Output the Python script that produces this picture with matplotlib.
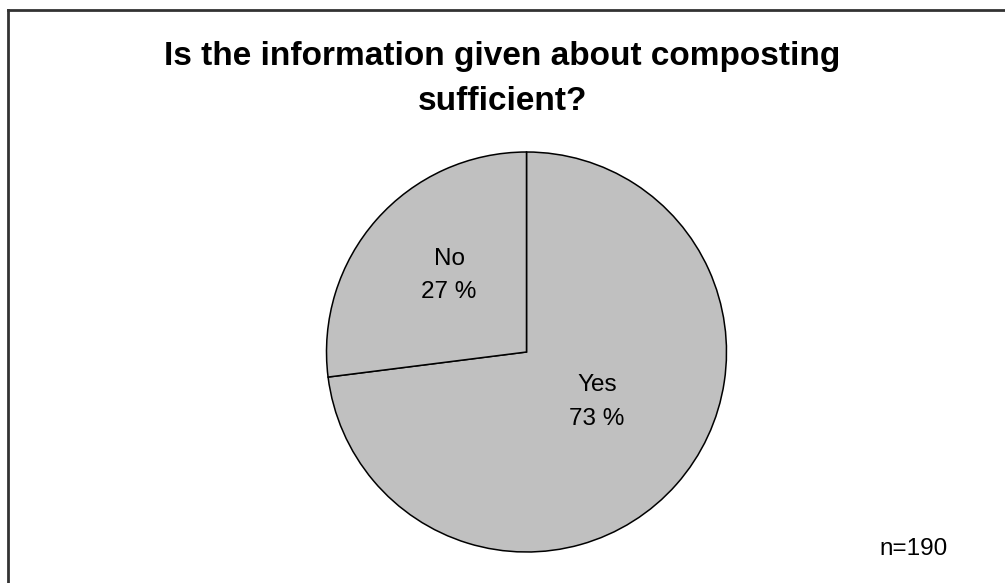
import matplotlib.pyplot as plt
from matplotlib.lines import Line2D

plt.rcParams['font.family'] = ['Liberation Sans', 'DejaVu Sans']

# survey answers (percent of respondents)
answers = ['Yes', 'No']
shares = [73, 27]
n_total = 190
title = 'Is the information given about composting\nsufficient?'

fig = plt.figure(figsize=(10.05, 5.83), dpi=100)
ax = fig.add_axes([0, 0, 1, 1])

# pixel-like coordinates, origin bottom left
W, H = 1005, 583
cx, cy, r = 526.5, H - 352, 200

wedges, _ = ax.pie(shares, startangle=90, counterclock=False,
                   center=(cx, cy), radius=r, colors=['#c0c0c0'] * len(shares),
                   wedgeprops=dict(edgecolor='black', linewidth=1.1))

ax.set_xlim(0, W)
ax.set_ylim(0, H)
ax.set_aspect('equal')
ax.axis('off')

# label positions relative to the pie centre
label_pos = {'Yes': (70.5, -50), 'No': (-77.5, 76.5)}
for name, val in zip(answers, shares):
    dx, dy = label_pos[name]
    ax.text(cx + dx, cy + dy, f'{name}\n{val} %', ha='center', va='center',
            fontsize=17.5, linespacing=1.65)

ax.text(W / 2, H - 79, title, ha='center', va='center', fontsize=24,
        fontweight='bold', linespacing=1.6)
ax.text(914, H - 549, f'n={n_total}', ha='center', va='center', fontsize=17.5)

# open frame: top and left edges only
ax.add_line(Line2D([7.5, W], [H - 10, H - 10], color='#333333', lw=2))
ax.add_line(Line2D([7.5, 7.5], [0, H - 10], color='#333333', lw=2))

fig.savefig('out.png', dpi=100)
